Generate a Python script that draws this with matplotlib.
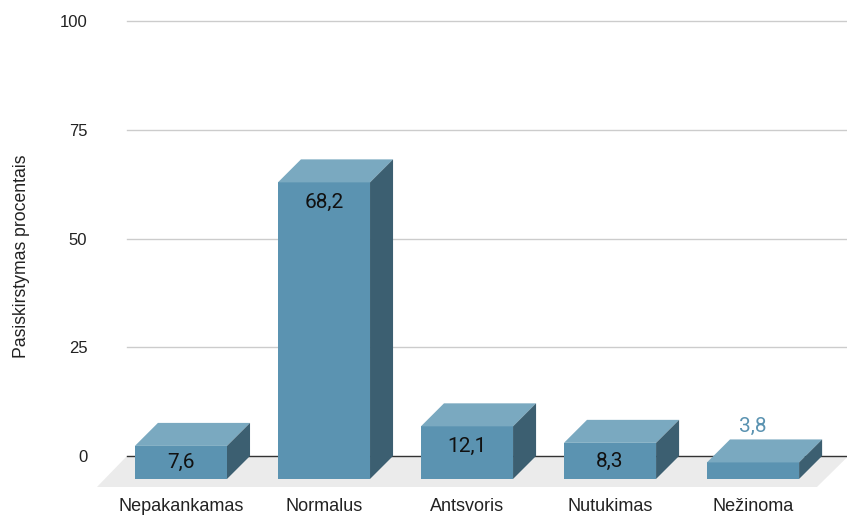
import numpy as np
import matplotlib
matplotlib.use("Agg")
import matplotlib.pyplot as plt
from matplotlib.patches import Polygon

categories = ["Nepakankamas", "Normalus", "Antsvoris", "Nutukimas", "Nežinoma"]
values = [7.6, 68.2, 12.1, 8.3, 3.8]
yticks = [0, 25, 50, 75, 100]
ylabel = "Pasiskirstymas procentais"

front_col = "#5b93b1"
top_col = "#7aa9c0"
side_col = "#3c5f71"

# fake 3d geometry (data units)
w = 0.322      # half bar width
dx = 0.161     # depth shift in x
dy = 5.29      # depth shift in y
xmin, xmax = -0.587, 4.657
ymin, ymax = -7.6, 101.4

fig = plt.figure(figsize=(8.47, 5.15), dpi=100)
ax = fig.add_axes([97/847, 1-489/515, 750/847, (489-15)/515])
ax.set_xlim(xmin, xmax)
ax.set_ylim(ymin, ymax)
for s in ax.spines.values():
    s.set_visible(False)
ax.set_xticks([])
ax.set_yticks(yticks)
ax.set_yticklabels([str(t) for t in yticks], fontsize=12, family="Liberation Sans", color="#222222")
ax.tick_params(axis="y", length=0, pad=7)
ax.set_ylabel(ylabel, fontsize=12.7, family="Liberation Sans", color="#222222")
ax.yaxis.set_label_coords(-0.089, 0.49)

# floor
gx0 = xmin + 30/143
floor = Polygon([(xmin, -7.13), (xmax - 30/143, -7.13), (xmax + 0.01, 0), (gx0, 0)],
                closed=True, facecolor="#ebebeb", edgecolor="none", zorder=0)
ax.add_patch(floor)

# gridlines
for t in yticks[1:]:
    ax.plot([gx0, xmax + 0.01], [t, t], color="#cccccc", lw=1, zorder=1, clip_on=False)
ax.plot([gx0, xmax + 0.01], [0, 0], color="#333333", lw=1, zorder=1, clip_on=False)

x = np.arange(len(categories))
for xi, v in zip(x, values):
    front = Polygon([(xi - w, -dy), (xi + w, -dy), (xi + w, v - dy), (xi - w, v - dy)],
                    facecolor=front_col, edgecolor="none", zorder=3)
    top = Polygon([(xi - w, v - dy), (xi + w, v - dy), (xi + w + dx, v), (xi - w + dx, v)],
                  facecolor=top_col, edgecolor="none", zorder=3)
    side = Polygon([(xi + w, -dy), (xi + w + dx, 0), (xi + w + dx, v), (xi + w, v - dy)],
                   facecolor=side_col, edgecolor="none", zorder=3)
    for p in (front, top, side):
        ax.add_patch(p)
    lab = f"{v:.1f}".replace(".", ",")
    if v < 5:
        ax.text(xi, v + 3, lab, ha="center", va="center", fontsize=15,
                family="Roboto", color=front_col, zorder=4)
    else:
        ly = max(v - dy - 4.6, v / 2 - dy)
        ax.text(xi, ly, lab, ha="center", va="center", fontsize=15,
                family="Roboto", color="#111111", zorder=4)
    ax.text(xi, -11.6, categories[int(xi)], ha="center", va="center", fontsize=13,
            family="Liberation Sans", color="#222222", clip_on=False)

fig.savefig("out.png", dpi=100)
